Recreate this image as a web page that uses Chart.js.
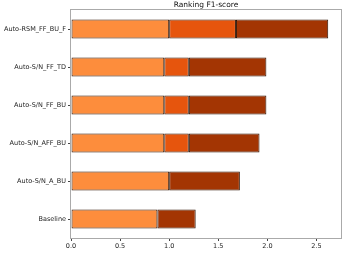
<!DOCTYPE html>
<html>
<head>
<meta charset="utf-8">
<script src="https://cdn.jsdelivr.net/npm/chart.js@4"></script>
<style>
  html, body { margin: 0; padding: 0; background: #fff; }
  #wrap { width: 359px; height: 253px; }
</style>
</head>
<body>
<div id="wrap"><canvas id="rankChart"></canvas></div>
<script>
// ranking data, top to bottom
const categories = ["Auto-RSM_FF_BU_F", "Auto-S/N_FF_TD", "Auto-S/N_FF_BU", "Auto-S/N_AFF_BU", "Auto-S/N_A_BU", "Baseline"];
const part1 = [1.00, 0.95, 0.95, 0.95, 1.00, 0.88];
const part2 = [0.68, 0.25, 0.25, 0.25, 0.00, 0.00];
const part3 = [0.94, 0.79, 0.79, 0.72, 0.72, 0.39];
const xTicks = [0, 0.5, 1.0, 1.5, 2.0, 2.5];
const chartTitle = "Ranking F1-score";

// axes frame + title centred over the plot area (matplotlib style)
const frame = {
  id: "frame",
  afterDatasetsDraw(chart) {
    const a = chart.chartArea, c = chart.ctx;
    c.save();
    c.strokeStyle = "#aaaaaa";
    c.lineWidth = 1;
    c.strokeRect(a.left - 0.5, a.top - 0.5, a.right - a.left + 1, a.bottom - a.top + 1);
    c.fillStyle = "#111";
    c.font = "7.5px 'DejaVu Sans'";
    c.textAlign = "center";
    c.textBaseline = "alphabetic";
    c.fillText(chartTitle, (a.left + a.right) / 2, a.top - 3);
    c.restore();
  }
};

function ds(data, color) {
  return {
    data: data,
    backgroundColor: color,
    borderColor: "#2e1203",
    borderWidth: 1,
    borderSkipped: false,
    barPercentage: 0.5,
    categoryPercentage: 1.0
  };
}

document.addEventListener("DOMContentLoaded", () => {
  const ctx = document.getElementById("rankChart");
  new Chart(ctx, {
    type: "bar",
    data: {
      labels: categories,
      datasets: [
        ds(part1, "#fd8d3c"),
        ds(part2, "#e6550d"),
        ds(part3, "#a33503")
      ]
    },
    options: {
      indexAxis: "y",
      responsive: true,
      maintainAspectRatio: false,
      animation: false,
      layout: { padding: { left: 0, right: 18, top: 10, bottom: 0 } },
      plugins: {
        legend: { display: false },
        tooltip: { enabled: false },
        title: { display: false }
      },
      scales: {
        x: {
          stacked: true,
          min: 0,
          max: 2.75,
          afterBuildTicks(s) { s.ticks = xTicks.map(v => ({ value: v })); },
          afterFit(s) { s.height = 15; },
          grid: { drawOnChartArea: false, tickLength: 3, color: "#444" },
          border: { display: false },
          ticks: {
            color: "#222",
            padding: 1,
            maxRotation: 0,
            font: { family: "DejaVu Sans", size: 6.5 },
            callback: v => Number(v).toFixed(1)
          }
        },
        y: {
          stacked: true,
          afterFit(s) { s.width = 71; },
          grid: { drawOnChartArea: false, tickLength: 3, color: "#444", offset: false },
          border: { display: false },
          ticks: {
            color: "#222",
            padding: 2,
            font: { family: "DejaVu Sans", size: 6.5 }
          }
        }
      }
    },
    plugins: [frame]
  });
});
</script>
</body>
</html>
